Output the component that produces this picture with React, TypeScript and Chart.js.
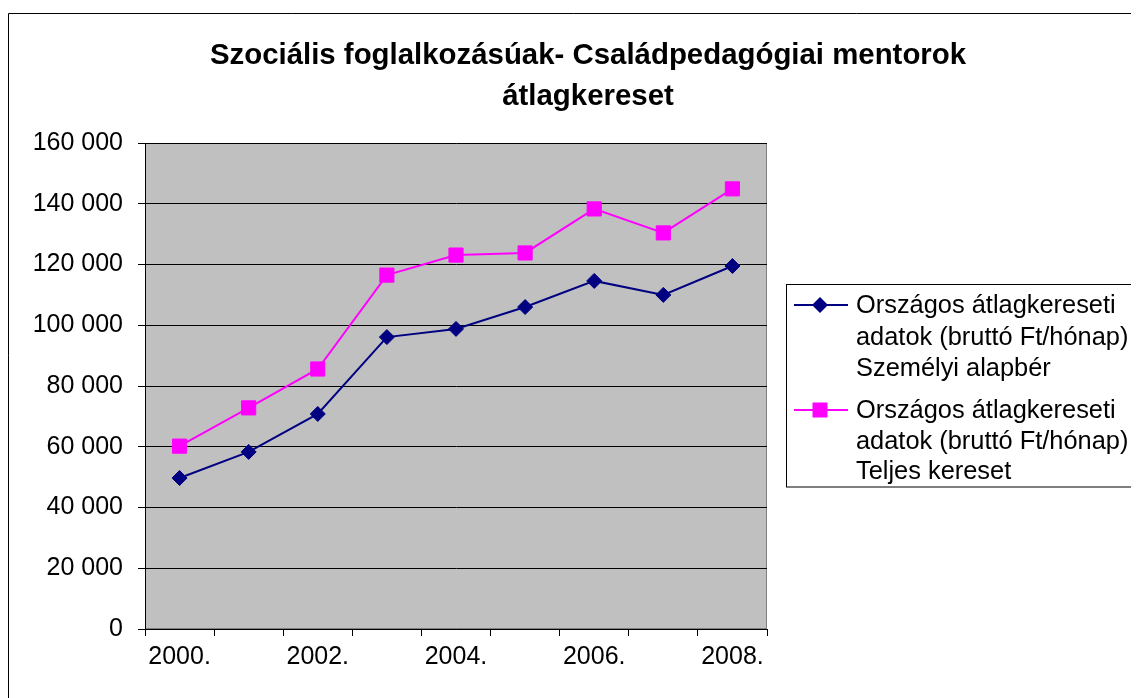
import React, { useEffect, useRef } from "react";
import { Chart, registerables } from "chart.js";

Chart.register(...registerables);

const years = ["2000.", "2001.", "2002.", "2003.", "2004.", "2005.", "2006.", "2007.", "2008."];
const alapber = [49700, 58300, 70800, 96100, 98800, 106000, 114600, 110000, 119500];
const teljesKereset = [60200, 72800, 85600, 116500, 123100, 123800, 138300, 130400, 144900];
const series1Lines = ["Országos átlagkereseti", "adatok (bruttó Ft/hónap)", "Személyi alapbér"];
const series2Lines = ["Országos átlagkereseti", "adatok (bruttó Ft/hónap)", "Teljes kereset"];
const titleLines = ["Szociális foglalkozásúak- Családpedagógiai mentorok", "átlagkereset"];
const yMin = 0;
const yMax = 160000;
const yStep = 20000;

const FONT = "'Liberation Sans', Arial, sans-serif";
const NAVY = "#000080";
const MAGENTA = "#FF00FF";

const fmt = (v: number) => String(v).replace(/\B(?=(\d{3})+(?!\d))/g, " ");

const decorPlugin = {
  id: "decor",
  beforeDraw(chart: any) {
    const { ctx, chartArea: a } = chart;
    ctx.save();
    ctx.fillStyle = "#ffffff";
    ctx.fillRect(0, 0, chart.width, chart.height);
    ctx.fillStyle = "#C0C0C0";
    ctx.fillRect(a.left, a.top, a.right - a.left, a.bottom - a.top);
    ctx.strokeStyle = "#808080";
    ctx.lineWidth = 1;
    ctx.strokeRect(a.left + 0.5, a.top + 0.5, a.right - a.left - 1, a.bottom - a.top - 1);
    // outer frame
    ctx.strokeStyle = "#000000";
    ctx.beginPath();
    ctx.moveTo(0.5, chart.height);
    ctx.lineTo(0.5, 5.5);
    ctx.lineTo(chart.width, 5.5);
    ctx.stroke();
    ctx.restore();
  },
  afterDraw(chart: any) {
    const { ctx } = chart;
    ctx.save();
    // title
    ctx.fillStyle = "#000";
    ctx.font = `bold 29.4px ${FONT}`;
    ctx.textAlign = "center";
    ctx.textBaseline = "middle";
    ctx.fillText(titleLines[0], 580, 48);
    ctx.fillText(titleLines[1], 580, 89);

    // legend box
    ctx.strokeStyle = "#000";
    ctx.lineWidth = 1;
    ctx.strokeRect(778.5, 276.5, 1130 - 778.5, 479 - 276.5);

    const items = [
      { lines: series1Lines, color: NAVY, shape: "diamond", ys: [297, 329, 360] },
      { lines: series2Lines, color: MAGENTA, shape: "square", ys: [402, 433, 463] },
    ];
    ctx.font = `25.4px ${FONT}`;
    ctx.textAlign = "left";
    ctx.textBaseline = "middle";
    for (const it of items) {
      const y0 = it.ys[0];
      ctx.strokeStyle = it.color;
      ctx.lineWidth = 2;
      ctx.beginPath();
      ctx.moveTo(786, y0);
      ctx.lineTo(840, y0);
      ctx.stroke();
      ctx.fillStyle = it.color;
      ctx.beginPath();
      if (it.shape === "diamond") {
        const r = 8;
        ctx.moveTo(812 - r, y0);
        ctx.lineTo(812, y0 - r);
        ctx.lineTo(812 + r, y0);
        ctx.lineTo(812, y0 + r);
        ctx.closePath();
      } else {
        ctx.rect(812 - 7.5, y0 - 7.5, 15, 15);
      }
      ctx.fill();
      ctx.fillStyle = "#000";
      it.lines.forEach((t, i) => ctx.fillText(t, 848, it.ys[i] + 1));
    }
    ctx.restore();
  },
};

export default function App() {
  const ref = useRef<HTMLCanvasElement | null>(null);
  useEffect(() => {
    if (!ref.current) return;
    const chart = new Chart(ref.current, {
      type: "line",
      data: {
        labels: years,
        datasets: [
          {
            label: series1Lines.join(" "),
            data: alapber,
            borderColor: NAVY,
            backgroundColor: NAVY,
            borderWidth: 2,
            pointStyle: "rectRot",
            pointRadius: 7.5,
            pointBorderWidth: 1,
            pointBorderColor: NAVY,
            pointBackgroundColor: NAVY,
            tension: 0,
          },
          {
            label: series2Lines.join(" "),
            data: teljesKereset,
            borderColor: MAGENTA,
            backgroundColor: MAGENTA,
            borderWidth: 2,
            pointStyle: "rect",
            pointRadius: 10,
            pointBorderWidth: 1,
            pointBorderColor: MAGENTA,
            pointBackgroundColor: MAGENTA,
            tension: 0,
          },
        ],
      },
      options: {
        responsive: false,
        animation: false,
        layout: { padding: { top: 135, right: 372, left: 0, bottom: 0 } },
        plugins: {
          legend: { display: false },
          title: { display: false },
          tooltip: { enabled: false },
        },
        scales: {
          x: {
            type: "category",
            offset: true,
            grid: {
              offset: true,
              drawOnChartArea: false,
              drawTicks: true,
              tickLength: 7,
              color: "#000",
            },
            border: { display: true, color: "#000", width: 1 },
            ticks: {
              autoSkip: false,
              maxRotation: 0,
              padding: 6,
              color: "#000",
              font: { family: FONT, size: 25 },
              callback: (_v: any, i: number) => (i % 2 === 0 ? years[i] : ""),
            },
            afterFit: (s: any) => {
              s.height = 69;
            },
          },
          y: {
            min: yMin,
            max: yMax,
            grid: {
              color: "#000",
              drawTicks: true,
              tickLength: 7,
            },
            border: { display: true, color: "#000", width: 1 },
            ticks: {
              stepSize: yStep,
              padding: 15,
              color: "#000",
              font: { family: FONT, size: 25 },
              callback: (v: any) => fmt(Number(v)),
            },
            afterFit: (s: any) => {
              s.width = 137;
            },
          },
        },
      },
      plugins: [decorPlugin],
    } as any);
    return () => chart.destroy();
  }, []);
  return (
    <div style={{ width: 1131, height: 690 }}>
      <canvas ref={ref} width={1131} height={690} style={{ display: "block" }} />
    </div>
  );
}
